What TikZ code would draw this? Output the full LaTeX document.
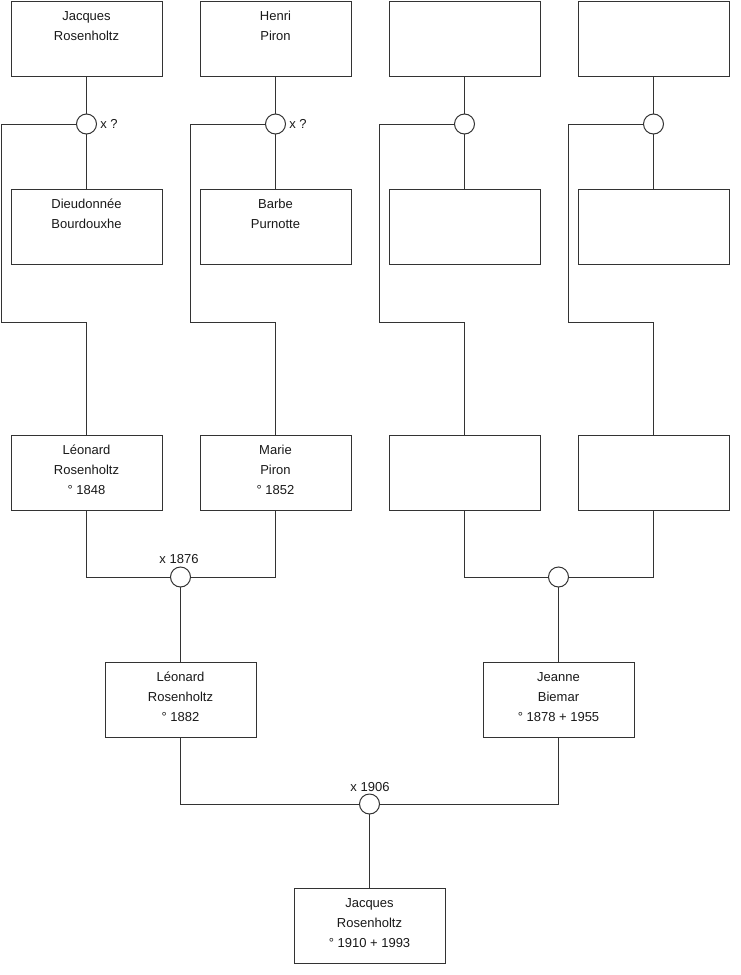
\documentclass[tikz,border=0pt]{standalone}
\usepackage{fontspec}
\setmainfont{Liberation Sans}
\usetikzlibrary{calc}
\definecolor{linec}{HTML}{333333}
\newcommand{\ptext}[1]{\begin{tabular}[t]{@{}c@{}}#1\end{tabular}}
\begin{document}
\begin{tikzpicture}[x=0.75pt,y=-0.75pt,
  person/.style={draw=linec, line width=0.75pt, minimum width=113.25pt, minimum height=56.25pt, inner sep=0pt, fill=white},
  txt/.style={anchor=base, inner sep=0pt, font=\fontsize{9.75}{15}\selectfont, text=black!90},
  union/.style={circle, draw=linec, fill=white, minimum size=15pt, inner sep=0pt, line width=0.75pt},
  link/.style={draw=linec, line width=0.75pt},
  lbl/.style={inner sep=0pt, font=\fontsize{9.75}{12}\selectfont, text=black!90}]
\useasboundingbox (0,0) rectangle (740,975);

% row 1
\node[person] (a1) at (86.5,38.5) {};
\node[person] (a2) at (275.5,38.5) {};
\node[person] (a3) at (464.5,38.5) {};
\node[person] (a4) at (653.5,38.5) {};
% row 2
\node[person] (b1) at (86.5,227) {};
\node[person] (b2) at (275.5,227) {};
\node[person] (b3) at (464.5,227) {};
\node[person] (b4) at (653.5,227) {};
% row 3
\node[person] (l1) at (86.5,473) {};
\node[person] (l2) at (275.5,473) {};
\node[person] (l3) at (464.5,473) {};
\node[person] (l4) at (653.5,473) {};
% row 4
\node[person] (p1) at (180.5,700) {};
\node[person] (p2) at (558.5,700) {};
% bottom
\node[person] (r) at (369.5,926) {};

% union circles (positions)
\coordinate (c1p) at (86.5,124);
\coordinate (c2p) at (275.5,124);
\coordinate (c3p) at (464.5,124);
\coordinate (c4p) at (653.5,124);
\coordinate (m1p) at (180.5,577);
\coordinate (m2p) at (558.5,577);
\coordinate (qp) at (369.5,804);

% corner coordinates
\coordinate (k1) at (1.5,322);
\coordinate (k2) at (190.5,322);
\coordinate (k3) at (379.5,322);
\coordinate (k4) at (568.5,322);

% connectors
\foreach \i in {1,2,3,4}{
  \draw[link] (a\i.south) -- (c\i p);
  \draw[link] (c\i p) -- (b\i.north);
  \draw[link] (c\i p) -| (k\i) -| (l\i.north);
}
\draw[link] (l1.south) |- (m1p);
\draw[link] (l2.south) |- (m1p);
\draw[link] (m1p) -- (p1.north);
\draw[link] (l3.south) |- (m2p);
\draw[link] (l4.south) |- (m2p);
\draw[link] (m2p) -- (p2.north);
\draw[link] (p1.south) |- (qp);
\draw[link] (p2.south) |- (qp);
\draw[link] (qp) -- (r.north);

% circles on top
\node[union] (c1) at (c1p) {};
\node[union] (c2) at (c2p) {};
\node[union] (c3) at (c3p) {};
\node[union] (c4) at (c4p) {};
\node[union] (m1) at (m1p) {};
\node[union] (m2) at (m2p) {};
\node[union] (q) at (qp) {};

% texts
\node[txt] (a1t) at ($(a1.north)+(0,19.5)$) {\ptext{Jacques\\Rosenholtz}};
\node[txt] (a2t) at ($(a2.north)+(0,19.5)$) {\ptext{Henri\\Piron}};
\node[txt] (b1t) at ($(b1.north)+(0,19.5)$) {\ptext{Dieudonnée\\Bourdouxhe}};
\node[txt] (b2t) at ($(b2.north)+(0,19.5)$) {\ptext{Barbe\\Purnotte}};
\node[txt] (l1t) at ($(l1.north)+(0,19.5)$) {\ptext{Léonard\\Rosenholtz\\° 1848}};
\node[txt] (l2t) at ($(l2.north)+(0,19.5)$) {\ptext{Marie\\Piron\\° 1852}};
\node[txt] (p1t) at ($(p1.north)+(0,19.5)$) {\ptext{Léonard\\Rosenholtz\\° 1882}};
\node[txt] (p2t) at ($(p2.north)+(0,19.5)$) {\ptext{Jeanne\\Biemar\\° 1878 + 1955}};
\node[txt] (rt) at ($(r.north)+(0,19.5)$) {\ptext{Jacques\\Rosenholtz\\° 1910 + 1993}};

% labels
\node[lbl, anchor=west] (x1) at ($(c1.east)+(3,0)$) {x ?};
\node[lbl, anchor=west] (x2) at ($(c2.east)+(3,0)$) {x ?};
\node[lbl, anchor=base] (x3) at (179,563) {x 1876};
\node[lbl, anchor=base] (x4) at (370,791) {x 1906};
\end{tikzpicture}
\end{document}
